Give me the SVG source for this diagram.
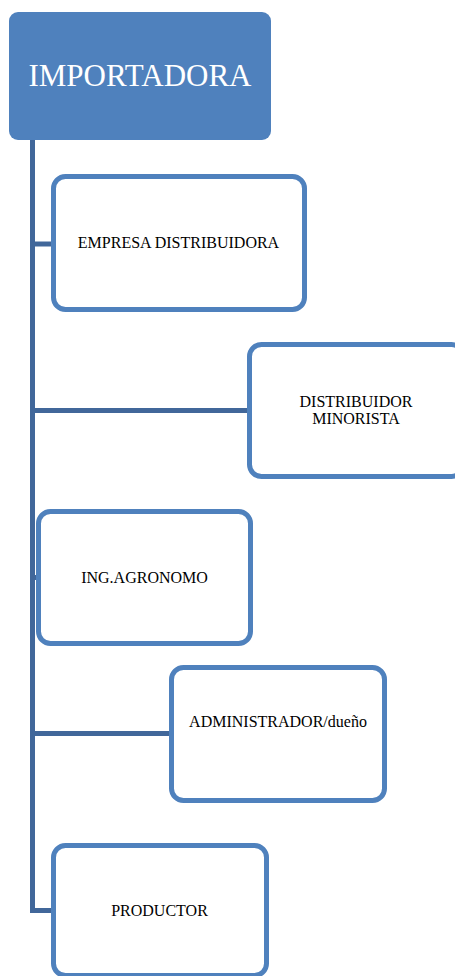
<svg xmlns="http://www.w3.org/2000/svg" width="455" height="976" viewBox="0 0 455 976">
<style>
.box{fill:#ffffff;stroke:#4F81BD;stroke-width:5}
.conn{fill:none;stroke:#41679A;stroke-width:5;stroke-linejoin:miter;stroke-linecap:butt}
.t{font-family:"Liberation Serif","Times New Roman",serif;font-size:16px;fill:#000000;text-anchor:middle}
.top{font-family:"Liberation Serif","Times New Roman",serif;font-size:31px;fill:#ffffff;text-anchor:middle}
</style>
<rect width="455" height="976" fill="#ffffff"/>
<g id="connectors">
<path class="conn" d="M32.5,140 V910.5 H53"/>
<path class="conn" d="M32.5,244 H53"/>
<path class="conn" d="M32.5,410.5 H249"/>
<path class="conn" d="M32.5,577.5 H38"/>
<path class="conn" d="M32.5,733.5 H171"/>
</g>
<g id="importadora">
<rect x="9" y="12" width="262" height="128" rx="9" fill="#4F81BD"/>
<text class="top" x="140" y="86">IMPORTADORA</text>
</g>
<g id="empresa-distribuidora">
<rect class="box" x="53.5" y="176.5" width="251" height="133" rx="12"/>
<text class="t" x="178.5" y="248">EMPRESA DISTRIBUIDORA</text>
</g>
<g id="distribuidor-minorista">
<rect class="box" x="249.5" y="344.5" width="214" height="132" rx="12"/>
<text class="t" x="356" y="407">DISTRIBUIDOR</text>
<text class="t" x="356" y="424">MINORISTA</text>
</g>
<g id="ing-agronomo">
<rect class="box" x="38.5" y="511.5" width="212" height="132" rx="12"/>
<text class="t" x="144.5" y="583">ING.AGRONOMO</text>
</g>
<g id="administrador">
<rect class="box" x="171.5" y="667.5" width="213" height="133" rx="12"/>
<text class="t" x="278" y="727">ADMINISTRADOR/dueño</text>
</g>
<g id="productor">
<rect class="box" x="53.5" y="845.5" width="213" height="130" rx="12"/>
<text class="t" x="159.5" y="916">PRODUCTOR</text>
</g>
</svg>
